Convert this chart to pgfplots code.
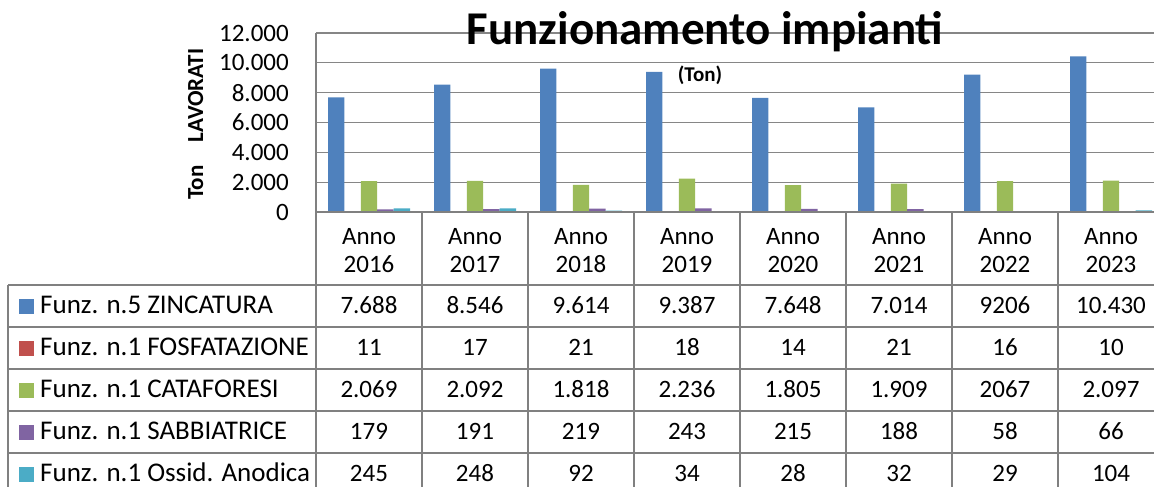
\documentclass[border=0pt]{standalone}
\usepackage{fontspec}
\setmainfont{Carlito}
\usepackage{pgfplots}
\pgfplotsset{compat=1.18}
\usepackage{pgfplotstable}
\definecolor{cBlue}{HTML}{4F81BD}
\definecolor{cRed}{HTML}{C0504D}
\definecolor{cGreen}{HTML}{9BBB59}
\definecolor{cPurple}{HTML}{8064A2}
\definecolor{cCyan}{HTML}{4BACC6}
\definecolor{gridgray}{RGB}{134,134,134}
\definecolor{tabgray}{RGB}{128,128,128}

\pgfplotstableread{
x zinc fosf cata sabb ossid
0 7688 11 2069 179 245
1 8546 17 2092 191 248
2 9614 21 1818 219 92
3 9387 18 2236 243 34
4 7648 14 1805 215 28
5 7014 21 1909 188 32
6 9206 16 2067 58 29
7 10430 10 2097 66 104
}\datatable

\newcommand\tabfont{\fontsize{25}{30}\selectfont}
\newcommand\labfont{\fontsize{27}{32}\selectfont}

\begin{document}
\begin{tikzpicture}[x=1pt,y=1pt]
\begin{axis}[
  at={(316pt,275pt)}, anchor=south west,
  scale only axis, width=848pt, height=179pt,
  xmin=-0.5, xmax=7.5, ymin=0, ymax=12000,
  ytick={0,2000,4000,6000,8000,10000,12000},
  xtick=\empty,
  scaled y ticks=false,
  ymajorgrids,
  grid style={gridgray, line width=1.2pt},
  axis line style={draw=none},
  major tick length=0pt,
  ybar=0pt, bar width=16.4pt,
  yticklabel style={font=\tabfont, inner sep=0pt, xshift=-27pt,
    /pgf/number format/1000 sep={.}, /pgf/number format/assume math mode=true},
]
\addplot[fill=cBlue, draw=none] table[x=x,y=zinc]{\datatable};
\addplot[fill=cRed, draw=none] table[x=x,y=fosf]{\datatable};
\addplot[fill=cGreen, draw=none] table[x=x,y=cata]{\datatable};
\addplot[fill=cPurple, draw=none] table[x=x,y=sabb]{\datatable};
\addplot[fill=cCyan, draw=none] table[x=x,y=ossid]{\datatable};
\end{axis}

% table lines
\begin{scope}[tabgray, line width=1.5pt]
\draw (316,454) -- (316,-5);
\draw (316,275) -- (1170,275);
\foreach \k in {1,2,3,4,5,6,7,8} \draw ({316+106*\k},275) -- ({316+106*\k},-5);
\draw (8,202) -- (8,-5);
\foreach \y in {202,160,118,76,34} \draw (8,\y) -- (1170,\y);
\end{scope}

% header
\foreach \yr [count=\i from 0] in {2016,2017,2018,2019,2020,2021,2022,2023} {
  \node[font=\tabfont, anchor=base, inner sep=0pt] at ({369+106*\i},242) {Anno};
  \node[font=\tabfont, anchor=base, inner sep=0pt] at ({369+106*\i},214) {\yr};
}

% rows
\newcommand\tabrow[4]{%
  \fill[#2] (19,#3) rectangle (34,#3+15);
  \node[font=\labfont, anchor=base west, inner sep=0pt] at (40,#3) {#1};
  \foreach \v [count=\i from 0] in {#4} {
    \node[font=\tabfont, anchor=base, inner sep=0pt] at ({369+106*\i},#3) {\v};
  }
}
\tabrow{Funz. n.5 ZINCATURA}{cBlue}{173}{7.688,8.546,9.614,9.387,7.648,7.014,9206,10.430}
\tabrow{Funz. n.1 FOSFATAZIONE}{cRed}{131}{11,17,21,18,14,21,16,10}
\tabrow{Funz. n.1 CATAFORESI}{cGreen}{89}{2.069,2.092,1.818,2.236,1.805,1.909,2067,2.097}
\tabrow{Funz. n.1 SABBIATRICE}{cPurple}{47}{179,191,219,243,215,188,58,66}
\tabrow{Funz. n.1 Ossid. Anodica}{cCyan}{5}{245,248,92,34,28,32,29,104}

% titles
\node[font=\bfseries\fontsize{47}{56}\selectfont, anchor=base, inner sep=0pt] at (705,442) {Funzionamento impianti};
\node[font=\bfseries\fontsize{21}{25}\selectfont, anchor=base, inner sep=0pt] at (700,405) {(Ton)};
\node[font=\bfseries\fontsize{23}{27}\selectfont, rotate=90, anchor=base, inner sep=0pt] at (203,363) {Ton\quad LAVORATI};

\pgfresetboundingbox
\path[use as bounding box] (0,0) rectangle (1154,487);
\end{tikzpicture}
\end{document}
